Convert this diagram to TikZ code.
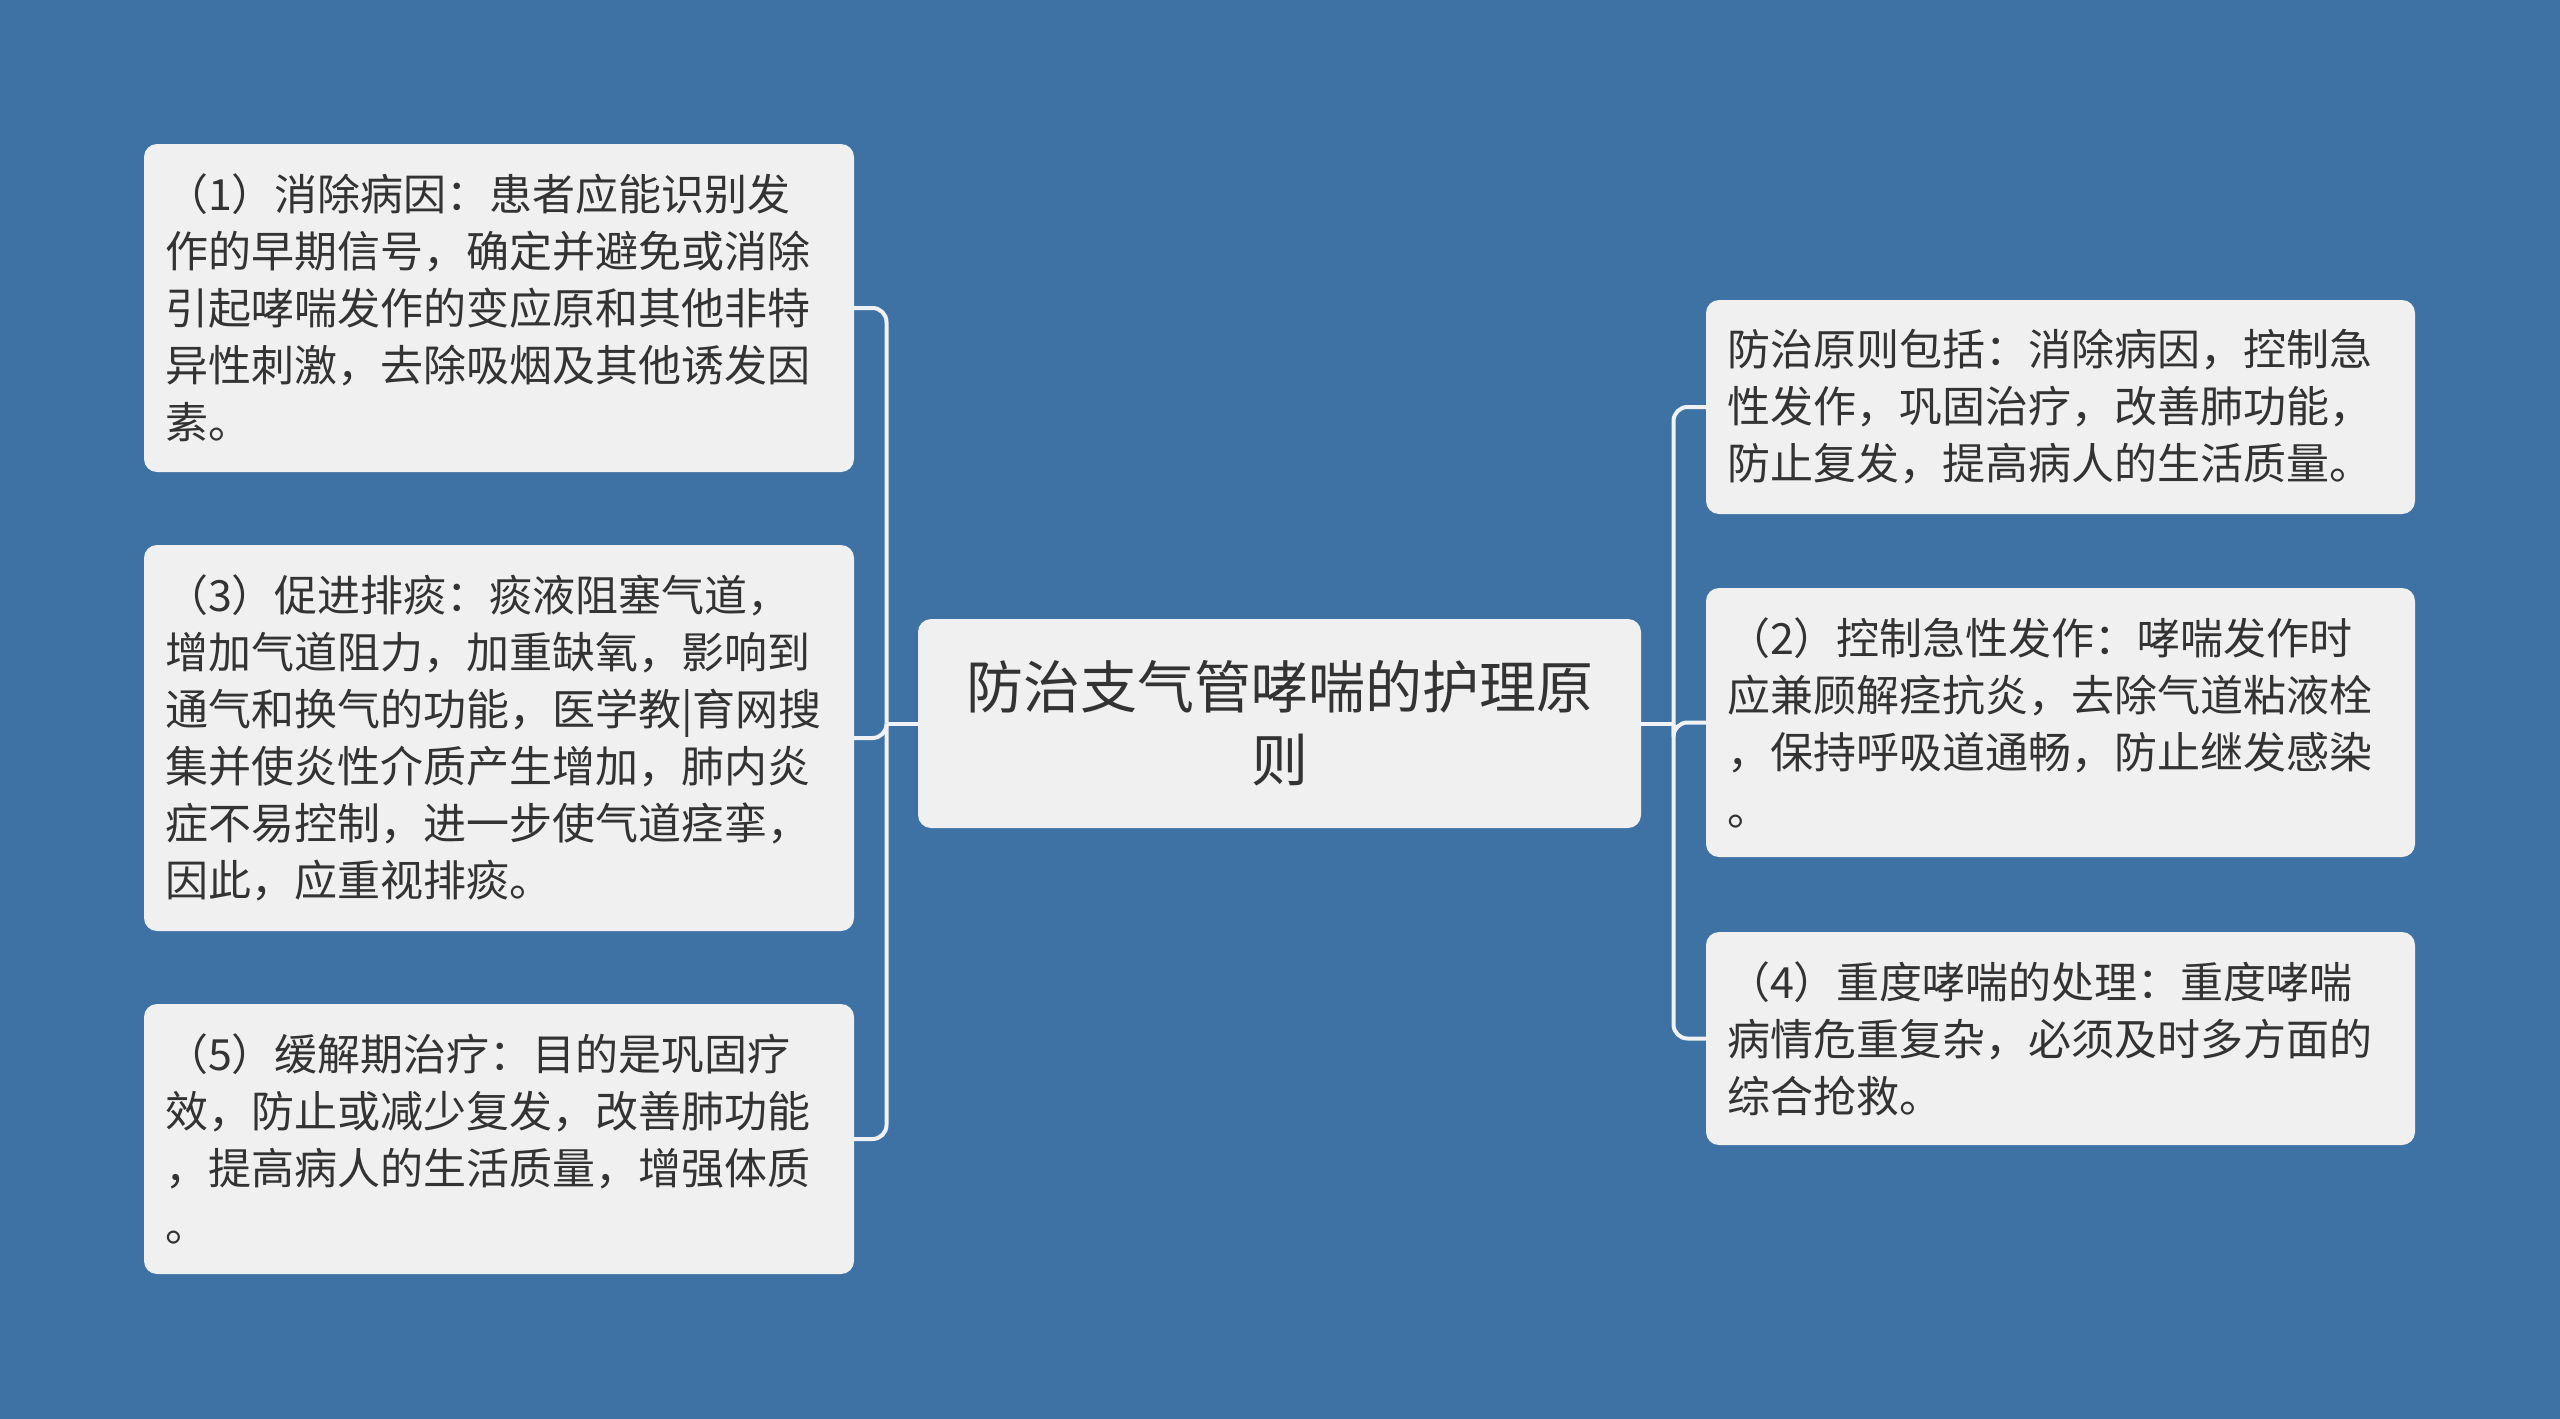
\documentclass[tikz,border=0pt]{standalone}
\usepackage{fontspec}
\setmainfont{Noto Sans CJK SC}
\definecolor{bg}{RGB}{62,114,165}
\definecolor{boxfill}{RGB}{240,240,240}
\definecolor{txt}{RGB}{51,51,51}
\definecolor{linec}{RGB}{240,242,245}
\begin{document}
\begin{tikzpicture}[x=1pt,y=-1pt,
  box/.style={fill=boxfill, rounded corners=13pt, inner xsep=21pt, inner ysep=0pt,
    text width=668pt, align=left, text=txt, anchor=center,
    font=\fontsize{43pt}{57pt}\selectfont},
  lbox/.style={box, minimum width=710pt},
  rbox/.style={box, minimum width=709pt, text width=667pt},
  title/.style={fill=boxfill, rounded corners=13pt, inner xsep=31pt, inner ysep=0pt,
    text width=661pt, align=center, text=txt, anchor=center, minimum width=723pt,
    minimum height=209pt, font=\fontsize{57pt}{73pt}\selectfont},
  conn/.style={draw=linec, line width=4pt, rounded corners=14pt}]
\fill[bg] (0,0) rectangle (2560,1419);
\useasboundingbox (0,0) rectangle (2560,1419);

\node[title] (c) at (1279.5,723.5) {防治支气管哮喘的护理原\\则};

\node[lbox, minimum height=328pt] (l1) at (499,308) {（1）消除病因：患者应能识别发\\作的早期信号，确定并避免或消除\\引起哮喘发作的变应原和其他非特\\异性刺激，去除吸烟及其他诱发因\\素。};
\node[lbox, minimum height=386pt] (l3) at (499,738) {（3）促进排痰：痰液阻塞气道，\\增加气道阻力，加重缺氧，影响到\\通气和换气的功能，医学教|育网搜\\集并使炎性介质产生增加，肺内炎\\症不易控制，进一步使气道痉挛，\\因此，应重视排痰。};
\node[lbox, minimum height=270pt] (l5) at (499,1139) {（5）缓解期治疗：目的是巩固疗\\效，防止或减少复发，改善肺功能\\，提高病人的生活质量，增强体质\\。};

\node[rbox, minimum height=214pt] (r1) at (2060.5,407) {防治原则包括：消除病因，控制急\\性发作，巩固治疗，改善肺功能，\\防止复发，提高病人的生活质量。};
\node[rbox, minimum height=269pt] (r2) at (2060.5,722.5) {（2）控制急性发作：哮喘发作时\\应兼顾解痉抗炎，去除气道粘液栓\\，保持呼吸道通畅，防止继发感染\\。};
\node[rbox, minimum height=213pt] (r4) at (2060.5,1038.5) {（4）重度哮喘的处理：重度哮喘\\病情危重复杂，必须及时多方面的\\综合抢救。};

\coordinate (lt) at (886.5,723.5);
\coordinate (rt) at (1673.5,723.5);

\draw[conn] (c.west) -- (lt);
\draw[conn] (lt) |- (l1.east);
\draw[conn] (lt) |- (l3.east);
\draw[conn] (lt) |- (l5.east);

\draw[conn] (c.east) -- (rt);
\draw[conn] (rt) |- (r1.west);
\draw[conn] (rt) |- (r2.west);
\draw[conn] (rt) |- (r4.west);
\end{tikzpicture}
\end{document}
